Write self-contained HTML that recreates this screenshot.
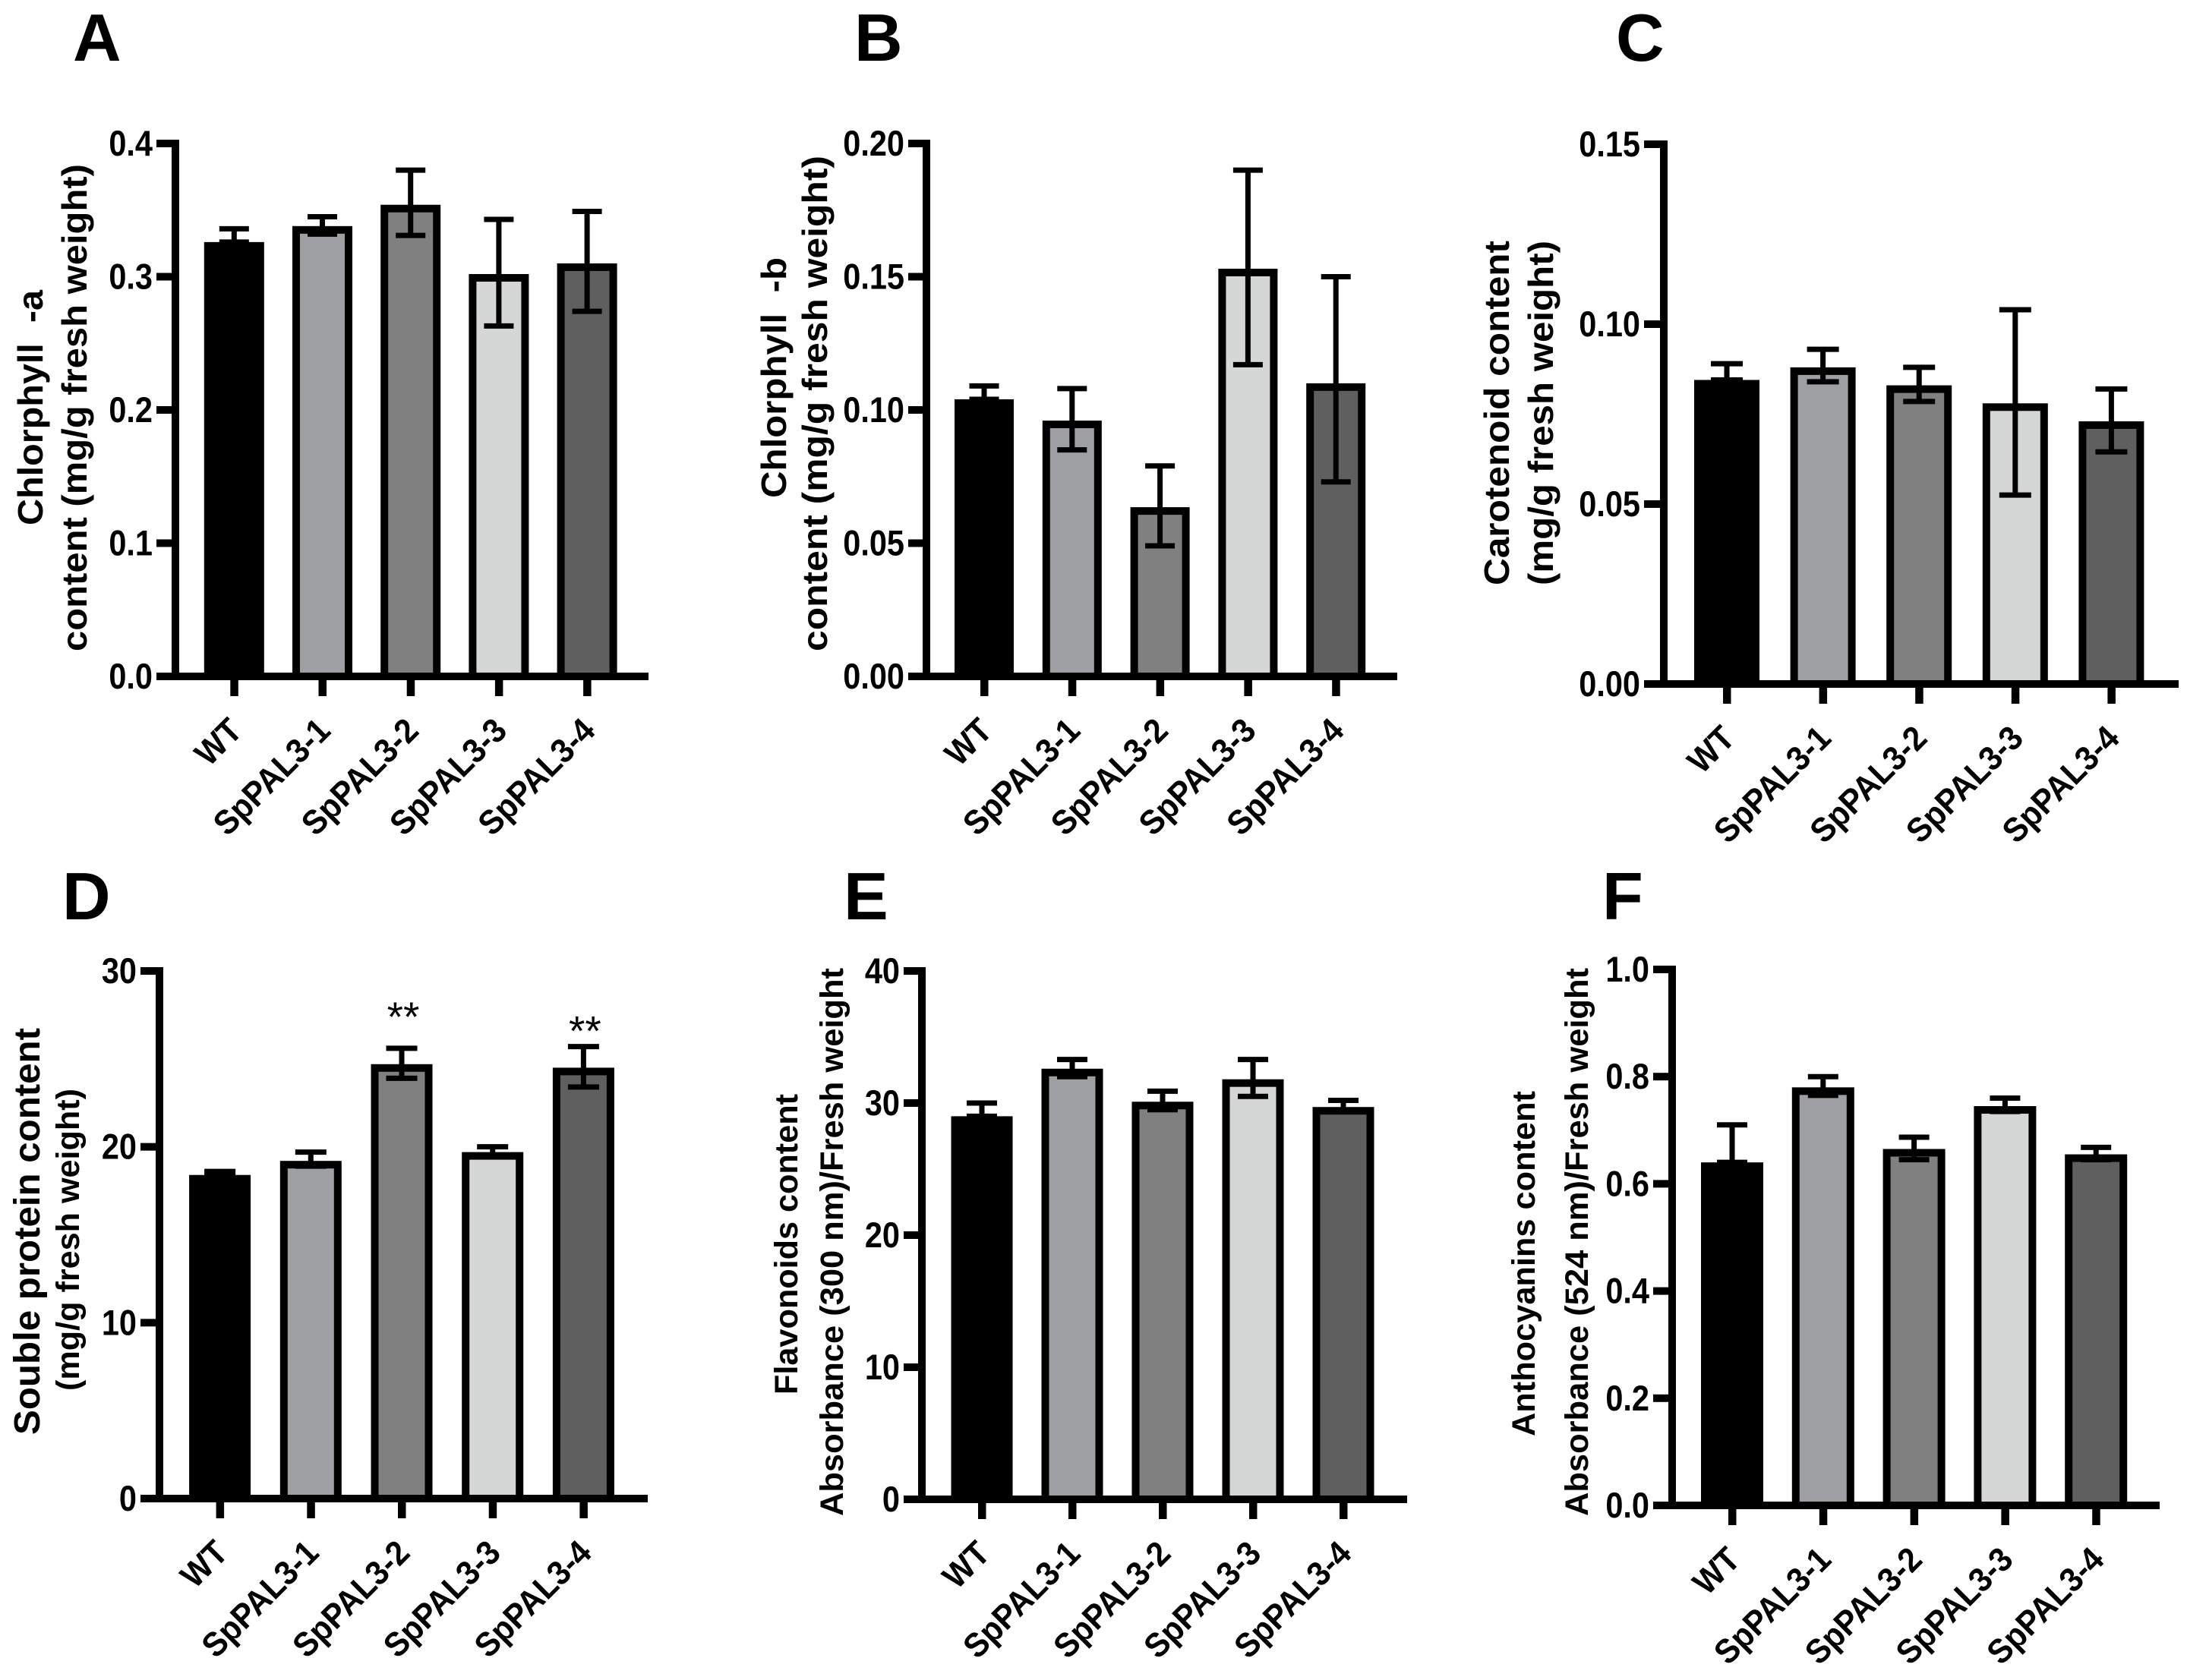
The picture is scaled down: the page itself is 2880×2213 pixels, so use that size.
<!DOCTYPE html>
<html lang="en">
<head>
<meta charset="utf-8">
<title>SpPAL3 pigment and protein content</title>
<style>
html,body{margin:0;padding:0;background:#fff;}
svg{display:block;}
text{font-family:"Liberation Sans",sans-serif;fill:#000;}
.letter{font-size:88px;font-weight:700;}
.title{font-size:46px;font-weight:700;}
.title-sm{font-size:43px;font-weight:700;}
</style>
</head>
<body>
<svg id="figure" xmlns="http://www.w3.org/2000/svg" width="2880" height="2213" viewBox="0 0 2880 2213">
<rect x="0" y="0" width="2880" height="2213" fill="#fff"/>
<text class="letter" x="96" y="80">A</text>
<text class="letter" x="1125" y="80">B</text>
<text class="letter" x="2128" y="80">C</text>
<text class="letter" x="82" y="1211">D</text>
<text class="letter" x="1111" y="1211">E</text>
<text class="letter" x="2110" y="1211">F</text>

<text class="title" xml:space="preserve" transform="translate(56,692) rotate(-90)" textLength="310" lengthAdjust="spacingAndGlyphs">Chlorphyll  -a</text>
<text class="title" transform="translate(114,858) rotate(-90)" textLength="642" lengthAdjust="spacingAndGlyphs">content (mg/g fresh weight)</text>
<text class="title" xml:space="preserve" transform="translate(1035,656) rotate(-90)" textLength="317" lengthAdjust="spacingAndGlyphs">Chlorphyll  -b</text>
<text class="title" transform="translate(1089,858) rotate(-90)" textLength="653" lengthAdjust="spacingAndGlyphs">content (mg/g fresh weight)</text>
<text class="title" transform="translate(1987,771) rotate(-90)" textLength="454" lengthAdjust="spacingAndGlyphs">Carotenoid content</text>
<text class="title" transform="translate(2045,771) rotate(-90)" textLength="454" lengthAdjust="spacingAndGlyphs">(mg/g fresh weight)</text>
<text class="title" style="font-size:48px" transform="translate(52,1890) rotate(-90)" textLength="536" lengthAdjust="spacingAndGlyphs">Souble protein content</text>
<text class="title-sm" transform="translate(104,1832) rotate(-90)" textLength="398" lengthAdjust="spacingAndGlyphs">(mg/g fresh weight)</text>
<text class="title-sm" transform="translate(1050,1837) rotate(-90)" textLength="396" lengthAdjust="spacingAndGlyphs">Flavonoids content</text>
<text class="title-sm" transform="translate(1110,1997) rotate(-90)" textLength="722" lengthAdjust="spacingAndGlyphs">Absorbance (300 nm)/Fresh weight</text>
<text class="title-sm" transform="translate(2021,1892) rotate(-90)" textLength="455" lengthAdjust="spacingAndGlyphs">Anthocyanins content</text>
<text class="title-sm" transform="translate(2091,1997) rotate(-90)" textLength="722" lengthAdjust="spacingAndGlyphs">Absorbance (524 nm)/Fresh weight</text>
</svg>
<script>
const categories = ['WT', 'SpPAL3-1', 'SpPAL3-2', 'SpPAL3-3', 'SpPAL3-4'];

const aValues = [0.326, 0.338, 0.354, 0.302, 0.310];
const aUpper = [0.336, 0.345, 0.380, 0.343, 0.349];
const aLower = [0.326, 0.332, 0.331, 0.263, 0.274];
const aTicks = [0, 0.1, 0.2, 0.3, 0.4];
const aTickLabels = ['0.0', '0.1', '0.2', '0.3', '0.4'];

const bValues = [0.104, 0.096, 0.0635, 0.153, 0.110];
const bUpper = [0.109, 0.108, 0.079, 0.190, 0.150];
const bLower = [0.104, 0.085, 0.049, 0.117, 0.073];
const bTicks = [0, 0.05, 0.10, 0.15, 0.20];
const bTickLabels = ['0.00', '0.05', '0.10', '0.15', '0.20'];

const cValues = [0.0845, 0.088, 0.083, 0.078, 0.073];
const cUpper = [0.089, 0.093, 0.088, 0.104, 0.082];
const cLower = [0.0845, 0.084, 0.0785, 0.0525, 0.0645];
const cTicks = [0, 0.05, 0.10, 0.15];
const cTickLabels = ['0.00', '0.05', '0.10', '0.15'];

const dValues = [18.4, 19.2, 24.7, 19.7, 24.5];
const dUpper = [18.6, 19.7, 25.6, 20.0, 25.7];
const dLower = [18.3, 18.9, 23.9, 19.5, 23.4];
const dTicks = [0, 10, 20, 30];
const dTickLabels = ['0', '10', '20', '30'];
const dStars = ['', '', '**', '', '**'];
const dStarLevels = [0, 0, 26.6, 0, 25.8];

const eValues = [29.0, 32.6, 30.1, 31.8, 29.7];
const eUpper = [30.0, 33.3, 30.9, 33.3, 30.2];
const eLower = [29.0, 32.0, 29.5, 30.5, 29.4];
const eTicks = [0, 10, 20, 30, 40];
const eTickLabels = ['0', '10', '20', '30', '40'];

const fValues = [0.64, 0.78, 0.665, 0.745, 0.655];
const fUpper = [0.71, 0.80, 0.687, 0.76, 0.668];
const fLower = [0.64, 0.765, 0.645, 0.735, 0.645];
const fTicks = [0, 0.2, 0.4, 0.6, 0.8, 1.0];
const fTickLabels = ['0.0', '0.2', '0.4', '0.6', '0.8', '1.0'];

const barColors = ['#000000', '#9e9fa3', '#808080', '#d5d7d6', '#5f5f5f'];

const svg = document.getElementById('figure');
const NS = 'http://www.w3.org/2000/svg';

function shape(parent, tag, attrs, text) {
  const el = document.createElementNS(NS, tag);
  for (const k in attrs) el.setAttribute(k, attrs[k]);
  if (text !== undefined) el.textContent = text;
  parent.appendChild(el);
  return el;
}

function drawPanel(id, frame, values, upper, lower, ticks, tickLabels, stars, starLevels) {
  const yMax = ticks[ticks.length - 1];
  const yScale = v => frame.y0 - (v / yMax) * (frame.y0 - frame.yTop);
  const xScale = i => frame.x0 + i * frame.step;

  const g = shape(svg, 'g', {});
  
  

  values.forEach((v, i) => {
    const sw = 10;
    const top = yScale(v);
    const bar = shape(g, 'rect', {
      x: xScale(i) - frame.barW / 2 + sw / 2,
      y: top + sw / 2,
      width: frame.barW - sw,
      height: frame.y0 - top - sw / 2,
      fill: barColors[i],
      stroke: '#000',
      'stroke-width': sw
    });
    
    
  });

  values.forEach((v, i) => {
    const cx = xScale(i);
    const hi = yScale(upper[i]);
    const lo = yScale(lower[i]);
    const err = shape(g, 'path', {
      d: 'M' + (cx - frame.capW / 2) + ' ' + hi + 'H' + (cx + frame.capW / 2) +
         'M' + cx + ' ' + hi + 'V' + lo +
         'M' + (cx - frame.capW / 2) + ' ' + lo + 'H' + (cx + frame.capW / 2),
      fill: 'none',
      stroke: '#000',
      'stroke-width': 7
    });
    
    
  });

  const yAxis = shape(g, 'rect', {
    x: frame.axisX - 5, y: frame.yTop - 5, width: 10, height: frame.y0 - frame.yTop + 10, fill: '#000'
  });
  
  

  const xAxis = shape(g, 'rect', {
    x: frame.left, y: frame.y0 - 5, width: frame.right - frame.left, height: 10, fill: '#000'
  });
  
  

  ticks.forEach((t, i) => {
    const y = yScale(t);
    const tick = shape(g, 'rect', {
      x: frame.left, y: y - 5, width: frame.axisX - frame.left, height: 10, fill: '#000'
    });
    
    

    const label = shape(g, 'text', {
      'text-anchor': 'end',
      transform: 'translate(' + (frame.left - 5) + ',' + (y + 16) + ') scale(1,1.14)',
      style: 'font-size:41.5px;font-weight:700'
    }, tickLabels[i]);
    
    
  });

  categories.forEach((c, i) => {
    const cx = xScale(i);
    const tick = shape(g, 'rect', {
      x: cx - 5, y: frame.y0, width: 10.5, height: 26, fill: '#000'
    });
    
    

    const label = shape(g, 'text', {
      'text-anchor': 'end',
      transform: 'translate(' + (cx + 13) + ',' + (frame.y0 + 74) + ') rotate(-45) scale(1,1.07)',
      style: 'font-size:42px;font-weight:700'
    }, c);
    
    
  });

  if (stars) {
    stars.forEach((s, i) => {
      if (!s) return;
      const star = shape(g, 'text', {
        x: xScale(i) + 2, y: yScale(starLevels[i]), 'text-anchor': 'middle',
        style: 'font-size:55px'
      }, s);
      
      
    });
  }
}

drawPanel('a', {axisX: 231, y0: 891, yTop: 189, left: 206, right: 854, x0: 308.3, step: 116.2, barW: 79, capW: 39}, aValues, aUpper, aLower, aTicks, aTickLabels);
drawPanel('b', {axisX: 1220, y0: 891, yTop: 189, left: 1196, right: 1840, x0: 1296, step: 115.8, barW: 78, capW: 39}, bValues, bUpper, bLower, bTicks, bTickLabels);
drawPanel('c', {axisX: 2191, y0: 901, yTop: 190, left: 2165, right: 2869, x0: 2274, step: 126.6, barW: 86, capW: 42}, cValues, cUpper, cLower, cTicks, cTickLabels);
drawPanel('d', {axisX: 210, y0: 1974, yTop: 1279, left: 185, right: 853, x0: 289.6, step: 119.7, barW: 81, capW: 41}, dValues, dUpper, dLower, dTicks, dTickLabels, dStars, dStarLevels);
drawPanel('e', {axisX: 1214, y0: 1975, yTop: 1279, left: 1190, right: 1853, x0: 1293, step: 119, barW: 81, capW: 40}, eValues, eUpper, eLower, eTicks, eTickLabels);
drawPanel('f', {axisX: 2202, y0: 1983, yTop: 1277, left: 2177, right: 2844, x0: 2281, step: 119.8, barW: 82, capW: 40}, fValues, fUpper, fLower, fTicks, fTickLabels);
</script>
</body>
</html>
